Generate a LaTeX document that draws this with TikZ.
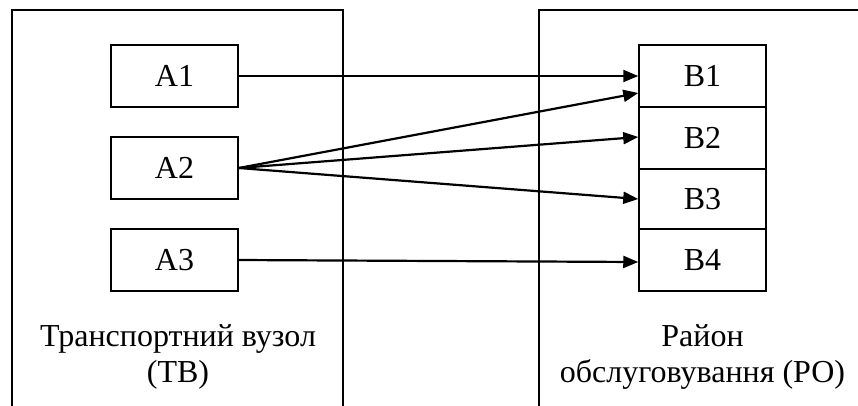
\documentclass[tikz,border=0pt]{standalone}
\usepackage{fontspec}
\setmainfont{Liberation Serif}
\usetikzlibrary{arrows.meta}
\begin{document}
\begin{tikzpicture}[x=1pt,y=-1pt,
  box/.style={draw,line width=1.5pt,minimum width=127pt,minimum height=62pt,inner sep=0pt,font=\fontsize{32}{36}\selectfont},
  frame/.style={line width=1.6pt},
  conn/.style={line width=2.2pt,-{Triangle[length=15pt,width=12pt]}},
  lbl/.style={align=center,inner sep=0pt,font=\fontsize{32}{36}\selectfont}]
\useasboundingbox (0,0) rectangle (858,405);
\fill[white] (0,0) rectangle (858,405);
\draw[frame] (12,406) -- (12,10) -- (343,10) -- (343,406);
\draw[frame] (539,406) -- (539,10) -- (858,10);
\node[box] (A1) at (174.5,76) {A1};
\node[box] (A2) at (174.5,168) {A2};
\node[box] (A3) at (174.5,260) {A3};
\node[box] (B1) at (702.5,76) {B1};
\node[box] (B2) at (702.5,138) {B2};
\node[box,minimum height=60pt] (B3) at (702.5,199) {B3};
\node[box] (B4) at (702.5,260) {B4};
\draw[conn] (A1.east) -- (B1.west);
\draw[conn] (A2.east) -- ([yshift=-17pt]B1.west);
\draw[conn] (A2.east) -- ([yshift=1pt]B2.west);
\draw[conn] (A2.east) -- (B3.west);
\draw[conn] (A3.east) -- ([yshift=-2pt]B4.west);
\node[lbl,anchor=base] (TV) at (178,382) {Транспортний вузол\\(ТВ)};
\node[lbl,anchor=base] (RO) at (702.5,382) {Район\\обслуговування (РО)};
\end{tikzpicture}
\end{document}
